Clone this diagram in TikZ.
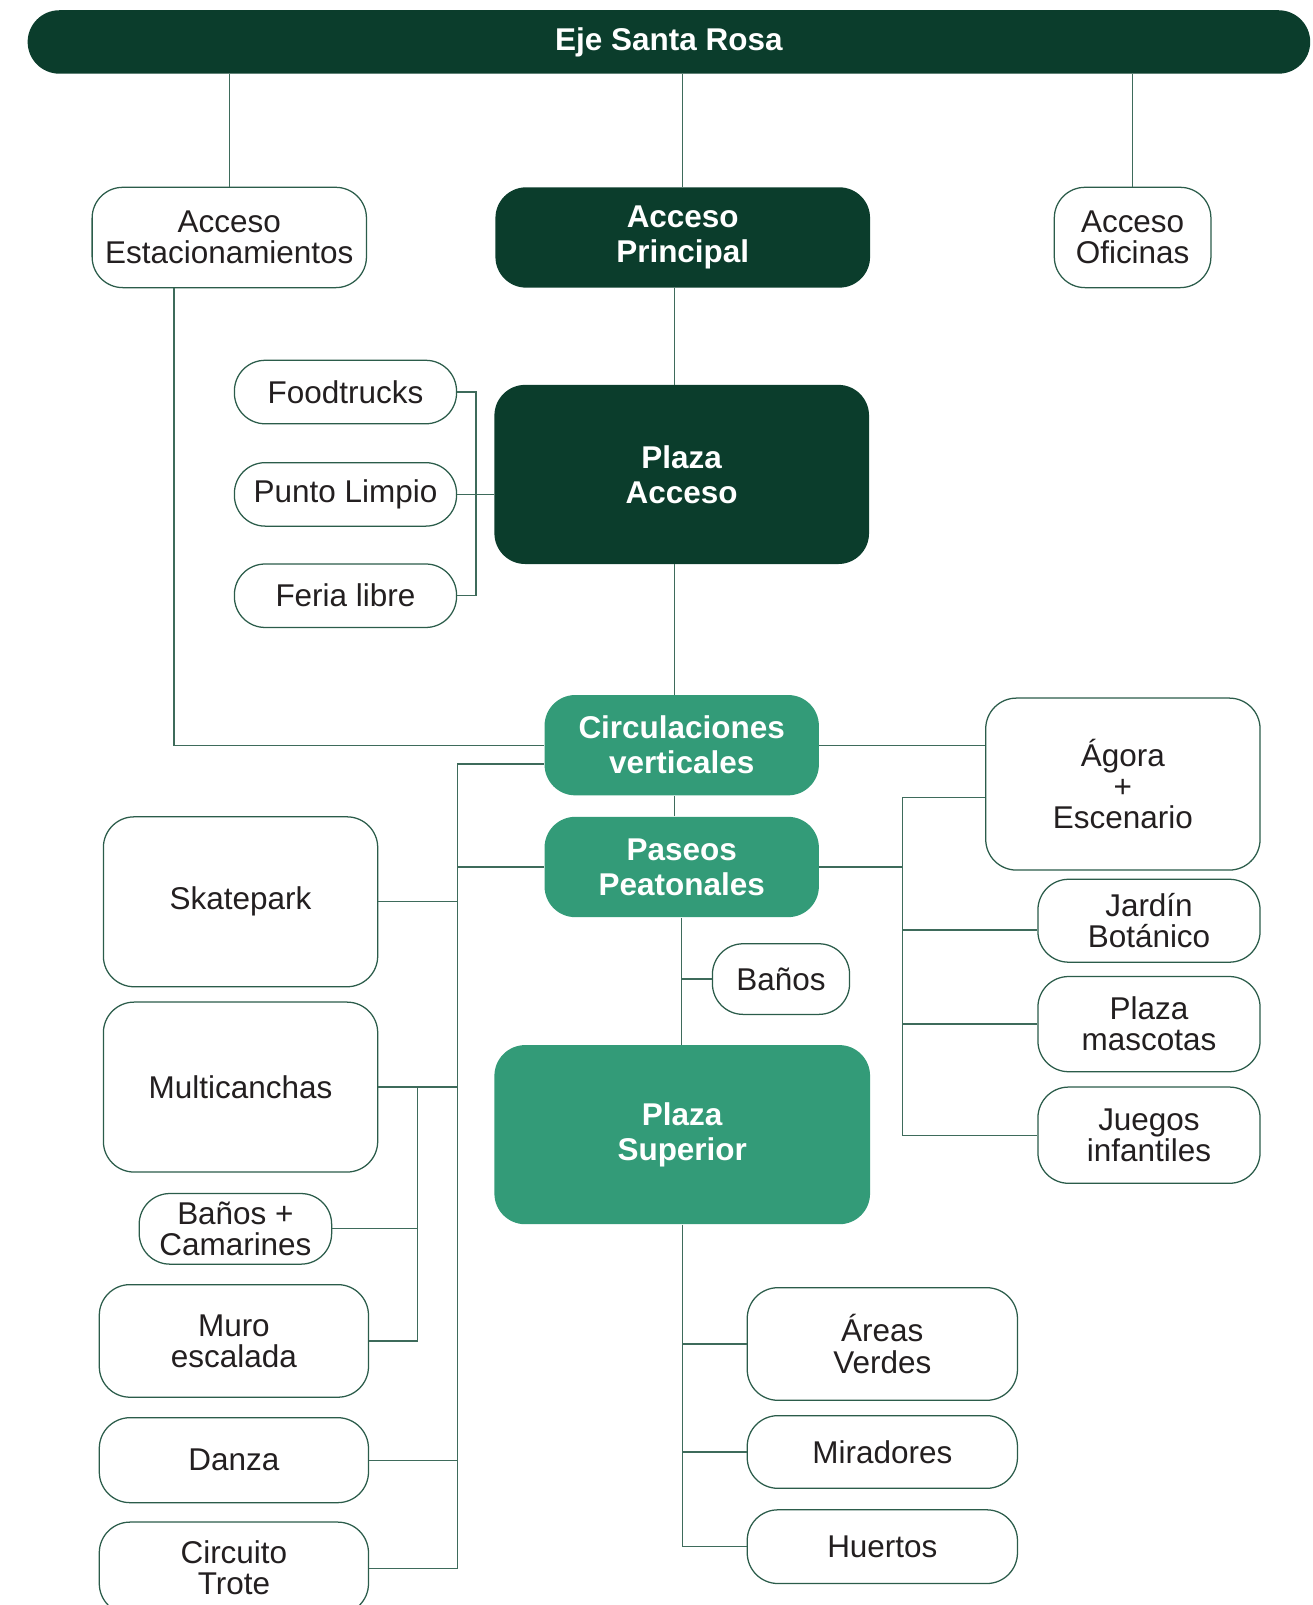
\documentclass[tikz,border=0pt]{standalone}
\usepackage{fontspec}
\setmainfont{Liberation Sans}
\definecolor{verdeosc}{HTML}{0B3D2C}
\definecolor{verdemed}{HTML}{339B78}
\definecolor{borde}{HTML}{2B5C4A}
\definecolor{trazo}{HTML}{3E6B5B}
\definecolor{letra}{HTML}{231F20}
\lineskiplimit=-100pt
\begin{document}
\begin{tikzpicture}[x=0.02cm,y=-0.02cm,
  caja/.style 2 args={rounded corners=0.6cm,inner sep=0pt,align=center,minimum width=#1*0.02cm,minimum height=#2*0.02cm},
  blanca/.style={draw=borde,line width=0.7pt,fill=white,text=letra,font=\fontsize{17.5}{17.3}\selectfont},
  oscura/.style={fill=verdeosc,text=white,font=\bfseries\fontsize{17.5}{19.5}\selectfont},
  verde/.style={fill=verdemed,text=white,font=\bfseries\fontsize{17.5}{19.5}\selectfont},
  rama/.style={draw=trazo,line width=0.7pt}]
\useasboundingbox (0,0) rectangle (1282,1568);
\node[oscura,caja={1253}{62},rounded corners=0.62cm] (eje) at (653.5,41) {Eje Santa Rosa};
\node[blanca,caja={268}{98}] (est) at (224,232) {Acceso\\Estacionamientos};
\node[oscura,caja={366}{98}] (princ) at (667,232) {Acceso\\Principal};
\node[blanca,caja={153}{98}] (ofi) at (1106.5,232) {Acceso\\Oficinas};
\node[oscura,caja={366}{175}] (placc) at (666,463.5) {Plaza\\Acceso};
\node[blanca,caja={217}{62}] (food) at (337.5,383) {Foodtrucks};
\node[blanca,caja={217}{62}] (punto) at (337.5,483) {Punto Limpio};
\node[blanca,caja={217}{62}] (feria) at (337.5,582) {Feria libre};
\node[verde,caja={268}{98}] (circ) at (666,728) {Circulaciones\\verticales};
\node[verde,caja={268}{98}] (paseos) at (666,847) {Paseos\\Peatonales};
\node[blanca,caja={134}{69}] (banos) at (763,956.5) {Baños};
\node[verde,caja={367}{175}] (plsup) at (666.5,1108.5) {Plaza\\Superior};
\node[blanca,caja={268}{168}] (agora) at (1097,766) {Ágora\\+\\Escenario};
\node[blanca,caja={217}{81}] (jardin) at (1122.5,899.5) {Jardín\\Botánico};
\node[blanca,caja={217}{93}] (masc) at (1122.5,1000.5) {Plaza\\mascotas};
\node[blanca,caja={217}{94}] (juegos) at (1122.5,1109) {Juegos\\infantiles};
\node[blanca,caja={268}{166}] (skate) at (235,881) {Skatepark};
\node[blanca,caja={268}{166}] (multi) at (235,1062) {Multicanchas};
\node[blanca,caja={188}{69}] (bcam) at (230,1200.5) {Baños +\\Camarines};
\node[blanca,caja={263}{110}] (muro) at (228.5,1310) {Muro\\escalada};
\node[blanca,caja={263}{83}] (danza) at (228.5,1426.5) {Danza};
\node[blanca,caja={263}{90}] (trote) at (228.5,1532) {Circuito\\Trote};
\node[blanca,caja={264}{110}] (areas) at (862,1313) {Áreas\\Verdes};
\node[blanca,caja={264}{71}] (mirad) at (862,1418.5) {Miradores};
\node[blanca,caja={264}{72}] (huertos) at (862,1511) {Huertos};
\coordinate (br) at (465,383);
\coordinate (lt) at (447,746.5);
\coordinate (lt2) at (408,1066);
\coordinate (rt) at (882,779);
\draw[rama] (est.north) -- (est.north |- eje.south);
\draw[rama] (princ.north) -- (princ.north |- eje.south);
\draw[rama] (ofi.north) -- (ofi.north |- eje.south);
\draw[rama] ([xshift=-0.14cm]placc.north) -- ([xshift=-0.14cm]placc.north |- princ.south);
\draw[rama] ([xshift=-0.14cm]circ.north) -- ([xshift=-0.14cm]circ.north |- placc.south);
\draw[rama] ([xshift=-0.14cm]paseos.north) -- ([xshift=-0.14cm]paseos.north |- circ.south);
\draw[rama] (food.east) -- (food.east -| br) -- (feria.east -| br) -- (feria.east);
\draw[rama] (punto.east) -- (punto.east -| placc.west);
\draw[rama] ([xshift=-1.08cm]est.south) |- (circ.west);
\draw[rama] (circ.east) -- (circ.east -| agora.west);
\draw[rama] (circ.west |- lt) -- (lt) -- (lt |- trote.east) -- (trote.east);
\draw[rama] (paseos.west) -- (paseos.west -| lt);
\foreach \n in {skate,multi,danza}
  \draw[rama] (\n.east) -- (\n.east -| lt);
\draw[rama] (multi.east -| lt2) -- (lt2 |- muro.east) -- (muro.east);
\draw[rama] (bcam.east) -- (bcam.east -| lt2);
\draw[rama] (paseos.east) -- (paseos.east -| rt);
\draw[rama] (agora.west |- rt) -- (rt) -- (rt |- juegos.west) -- (juegos.west);
\draw[rama] ([yshift=-0.18cm]jardin.west) -- ([yshift=-0.18cm]jardin.west -| rt);
\draw[rama] (masc.west) -- (masc.west -| rt);
\draw[rama] (banos.west) -- (banos.west -| paseos.south);
\draw[rama] (paseos.south) -- (paseos.south |- plsup.north);
\draw[rama] (plsup.south) -- (plsup.south |- huertos.west) -- (huertos.west);
\foreach \n in {areas,mirad}
  \draw[rama] (\n.west) -- (\n.west -| plsup.south);
\end{tikzpicture}
\end{document}
